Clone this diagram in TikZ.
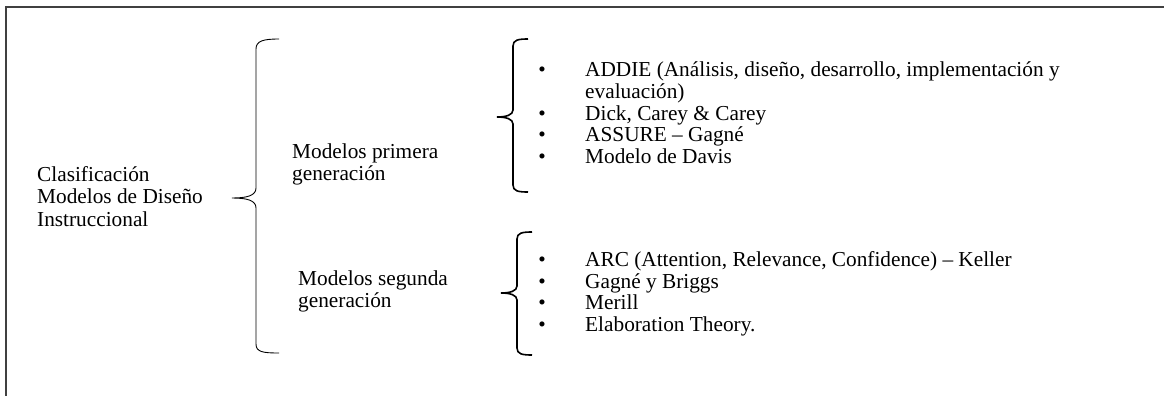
\documentclass[tikz,border=0pt]{standalone}
\usepackage{fontspec}
\setmainfont{Liberation Serif}
% lines stacked on the baseline of the first one
\newcommand\firstbase[1]{\vtop{#1}}
\begin{document}
\begin{tikzpicture}[x=1pt,y=-1pt,
  txt/.style={inner sep=0pt, anchor=base west,
    font=\fontsize{21.3}{22.5}\selectfont},
  itm/.style={txt, font=\fontsize{21.3}{21.5}\selectfont},
  dot/.style={inner sep=0pt, anchor=base, font=\fontsize{21.3}{21.5}\selectfont},
  bracebig/.style={draw=black, line width=0.9pt},
  bracesmall/.style={draw=black, line width=1.6pt},
  frame/.style={draw=black!75, line width=1.2pt}]
\useasboundingbox (0,0) rectangle (1164,396);

% open frame: left and top edges
\draw[frame] (6,396) -- (6,7) -- (1164,7);

% root label
\node[txt] (root) at (37,181)
  {\firstbase{\hbox{Clasificación}\hbox{Modelos de Diseño}\hbox{Instruccional}}};

% main brace
\draw[bracebig] (279,39) .. controls (263,39) and (256,41) .. (256,49)
  -- (256,188) .. controls (256,196) and (246,198) .. (232,198)
  .. controls (246,198) and (256,200) .. (256,208)
  -- (256,344) .. controls (256,352) and (263,353) .. (279,353);

% generation labels
\node[txt] (gen1) at (292,158) {\firstbase{\hbox{Modelos primera}\hbox{generación}}};
\node[txt] (gen2) at (298,285) {\firstbase{\hbox{Modelos segunda}\hbox{generación}}};

% first-generation brace
\draw[bracesmall] (528,39) .. controls (518,39) and (513,40) .. (513,46)
  -- (513,110) .. controls (513,115) and (506,117) .. (497,117)
  .. controls (506,117) and (513,119) .. (513,124)
  -- (513,185) .. controls (513,191) and (518,192) .. (528,192);

% second-generation brace
\draw[bracesmall] (532,232) .. controls (522,232) and (517,233) .. (517,239)
  -- (517,286) .. controls (517,291) and (510,293) .. (501,293)
  .. controls (510,293) and (517,295) .. (517,300)
  -- (517,348) .. controls (517,354) and (522,355) .. (532,355);

% first-generation models
\node[dot] (b1) at (542,77) {\textbullet};
\node[itm] (m1) at (585,77)
  {\firstbase{\hbox{ADDIE (Análisis, diseño, desarrollo, implementación y}\hbox{evaluación)}}};
\node[dot] (b2) at (542,120) {\textbullet};
\node[itm] (m2) at (585,120) {Dick, Carey \& Carey};
\node[dot] (b3) at (542,141.5) {\textbullet};
\node[itm] (m3) at (585,141.5) {ASSURE – Gagné};
\node[dot] (b4) at (542,163) {\textbullet};
\node[itm] (m4) at (585,163) {Modelo de Davis};

% second-generation models
\node[dot] (c1) at (542,266.5) {\textbullet};
\node[itm] (n1) at (585,266.5) {ARC (Attention, Relevance, Confidence) – Keller};
\node[dot] (c2) at (542,288) {\textbullet};
\node[itm] (n2) at (585,288) {Gagné y Briggs};
\node[dot] (c3) at (542,309.5) {\textbullet};
\node[itm] (n3) at (585,309.5) {Merill};
\node[dot] (c4) at (542,331) {\textbullet};
\node[itm] (n4) at (585,331) {Elaboration Theory.};
\end{tikzpicture}
\end{document}
